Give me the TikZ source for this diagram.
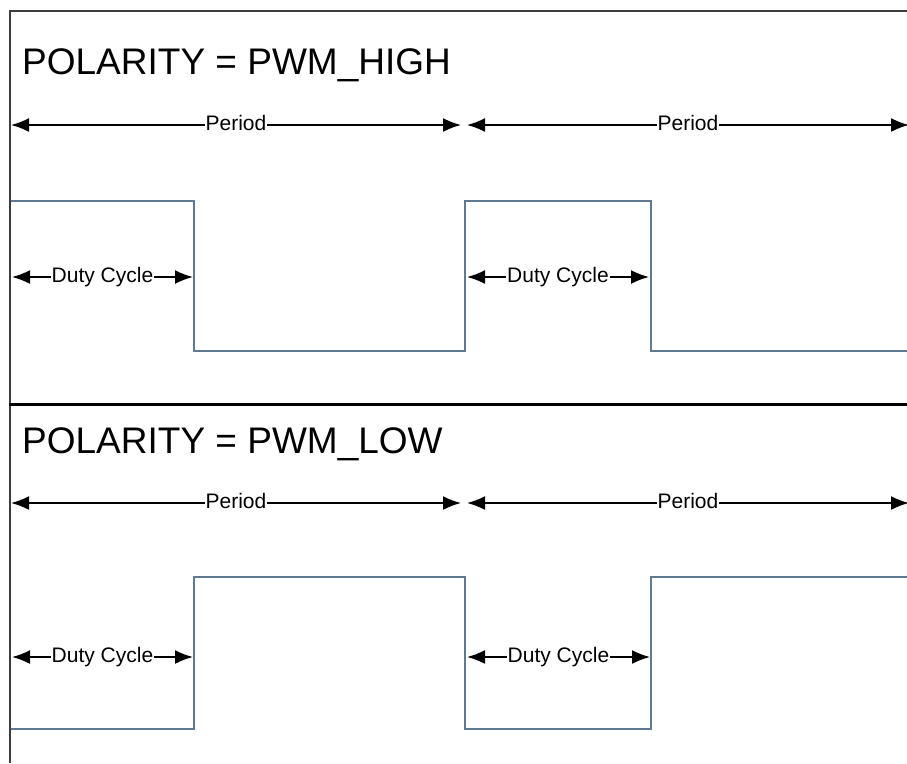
\documentclass[tikz,border=0pt]{standalone}
\usepackage{fontspec}
\setmainfont{Liberation Sans}
\usetikzlibrary{arrows.meta}
\definecolor{wave}{RGB}{96,120,144}
\definecolor{framegray}{RGB}{60,60,60}
\begin{document}
\begin{tikzpicture}[x=1pt,y=-1pt,
  titletext/.style={anchor=base west, inner sep=0pt, font=\fontsize{37}{40}\selectfont},
  dimline/.style={draw=black, line width=1.8pt,
    >={Latex[length=18pt,width=14pt]}, <->},
  dimlabel/.style={anchor=base, yshift=-5pt, fill=white, inner xsep=1pt, inner ysep=0pt,
    font=\fontsize{21}{24}\selectfont},
  signal/.style={draw=wave, line width=1.8pt},
  frameline/.style={draw=framegray, line width=2pt},
  divider/.style={draw=black, line width=3pt}]
\useasboundingbox[fill=white] (0,0) rectangle (907,763);

% ---------- top section ----------
\node[titletext] (t1) at (22,74) {POLARITY = PWM\_HIGH};

\coordinate (p1a) at (11,125);  \coordinate (p1b) at (461,125);
\coordinate (p2a) at (467,125); \coordinate (p2b) at (909,125);
\draw[dimline] (p1a) -- (p1b) node[dimlabel, midway] (lp1) {Period};
\draw[dimline] (p2a) -- (p2b) node[dimlabel, midway] (lp2) {Period};

\draw[signal] (10,201) -- (194,201) -- (194,351) -- (465,351) -- (465,201)
  -- (651,201) -- (651,351) -- (907,351);

\coordinate (d1a) at (12,277);  \coordinate (d1b) at (193,277);
\coordinate (d2a) at (467,277); \coordinate (d2b) at (649,277);
\draw[dimline] (d1a) -- (d1b) node[dimlabel, midway] (ld1) {Duty Cycle};
\draw[dimline] (d2a) -- (d2b) node[dimlabel, midway] (ld2) {Duty Cycle};

% ---------- bottom section ----------
\node[titletext] (t2) at (22,453) {POLARITY = PWM\_LOW};

\coordinate (q1a) at (11,503);  \coordinate (q1b) at (461,503);
\coordinate (q2a) at (467,503); \coordinate (q2b) at (909,503);
\draw[dimline] (q1a) -- (q1b) node[dimlabel, midway] (lq1) {Period};
\draw[dimline] (q2a) -- (q2b) node[dimlabel, midway] (lq2) {Period};

\draw[signal] (10,729) -- (194,729) -- (194,577) -- (465,577) -- (465,729)
  -- (651,729) -- (651,577) -- (907,577);

\coordinate (e1a) at (12,657);  \coordinate (e1b) at (193,657);
\coordinate (e2a) at (467,657); \coordinate (e2b) at (650,657);
\draw[dimline] (e1a) -- (e1b) node[dimlabel, midway] (le1) {Duty Cycle};
\draw[dimline] (e2a) -- (e2b) node[dimlabel, midway] (le2) {Duty Cycle};

% ---------- frame ----------
\draw[frameline] (9,11) -- (907,11);
\draw[frameline] (10,10) -- (10,763);
\draw[divider] (9,404) -- (907,404);
\end{tikzpicture}
\end{document}
